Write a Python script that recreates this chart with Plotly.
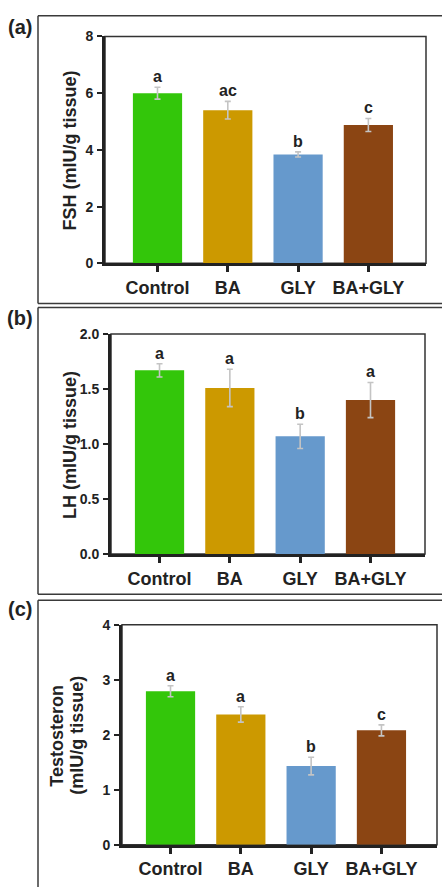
import plotly.graph_objects as go

# ---------------- data ----------------
categories = ["Control", "BA", "GLY", "BA+GLY"]
bar_colors = ["#33c60a", "#cc9900", "#6699cc", "#8b4513"]

fsh_mean = [6.00, 5.40, 3.84, 4.88]
fsh_err = [0.21, 0.31, 0.09, 0.23]
fsh_letters = ["a", "ac", "b", "c"]

lh_mean = [1.67, 1.51, 1.07, 1.40]
lh_err = [0.06, 0.17, 0.11, 0.16]
lh_letters = ["a", "a", "b", "a"]

testo_mean = [2.79, 2.37, 1.43, 2.08]
testo_err = [0.10, 0.14, 0.16, 0.10]
testo_letters = ["a", "a", "b", "c"]

W, H = 442, 892
FONT = "Liberation Sans, Arial, sans-serif"
DARK = "#222222"


def px(x):
    return x / W


def py(y):
    return 1 - y / H


panels = [
    dict(mean=fsh_mean, err=fsh_err, letters=fsh_letters,
         xdom=(105, 426), ydom=(260, 29), yrange=[0, 8], dtick=2, fmt="d",
         xrange=[-0.747, 3.82], label="(a)", label_y=19,
         titles=[("FSH (mIU/g tissue)", 70, 145)],
         frame=(8, 301)),
    dict(mean=lh_mean, err=lh_err, letters=lh_letters,
         xdom=(111, 425), ydom=(556, 332), yrange=[0, 2], dtick=0.5, fmt=".1f",
         xrange=[-0.69, 3.775], label="(b)", label_y=316,
         titles=[("LH (mIU/g tissue)", 70, 445)],
         frame=(305, 597)),
    dict(mean=testo_mean, err=testo_err, letters=testo_letters,
         xdom=(122, 437), ydom=(852, 628), yrange=[0, 4], dtick=1, fmt="d",
         xrange=[-0.69, 3.79], label="(c)", label_y=612,
         titles=[("Testosteron", 57, 741), ("(mIU/g tissue)", 77, 741)],
         frame=(603, 895)),
]

fig = go.Figure()
annotations = []
shapes = []
layout_axes = {}

for i, p in enumerate(panels, start=1):
    xa = "x" if i == 1 else f"x{i}"
    ya = "y" if i == 1 else f"y{i}"
    fig.add_trace(go.Bar(
        x=categories, y=p["mean"], xaxis=xa, yaxis=ya,
        marker=dict(color=bar_colors, line=dict(width=0)),
        width=0.7,
        error_y=dict(type="data", array=p["err"], color="#c4c4c4",
                     thickness=1.6, width=3),
        showlegend=False, hoverinfo="skip",
    ))
    key = "" if i == 1 else str(i)
    layout_axes[f"xaxis{key}"] = dict(
        domain=[px(p["xdom"][0]), px(p["xdom"][1])],
        anchor=ya, type="category", categoryorder="array",
        categoryarray=categories, range=p["xrange"],
        showline=True, linecolor=DARK, linewidth=3,
        ticks="outside", ticklen=6, tickwidth=2.5, tickcolor=DARK,
        tickfont=dict(family=FONT, size=18, color=DARK, weight="bold"),
        ticklabelstandoff=0,
        showgrid=False, zeroline=False, fixedrange=True,
    )
    layout_axes[f"yaxis{key}"] = dict(
        domain=[py(p["ydom"][0]), py(p["ydom"][1])],
        anchor=xa, range=p["yrange"], dtick=p["dtick"], tick0=0,
        tickformat=p["fmt"],
        showline=True, linecolor=DARK, linewidth=3,
        ticks="outside", ticklen=5, tickwidth=2, tickcolor=DARK,
        tickfont=dict(family=FONT, size=14, color=DARK, weight="bold"),
        ticklabelstandoff=1,
        showgrid=False, zeroline=False, fixedrange=True,
    )
    # thin top/right box
    shapes.append(dict(type="rect", xref=f"{xa} domain", yref=f"{ya} domain",
                       x0=0, x1=1, y0=0, y1=1, layer="below",
                       line=dict(color="#333333", width=1.5)))
    # significance letters
    for c, m, e, t in zip(categories, p["mean"], p["err"], p["letters"]):
        annotations.append(dict(x=c, y=m + e, xref=xa, yref=ya, text=t,
                                showarrow=False, yanchor="bottom", xanchor="center",
                                font=dict(family=FONT, size=16, color=DARK, weight="bold")))
    # y axis titles
    for txt, tx, ty in p["titles"]:
        annotations.append(dict(x=px(tx), y=py(ty), xref="paper", yref="paper",
                                text=txt, textangle=-90, showarrow=False,
                                xanchor="center", yanchor="middle",
                                font=dict(family=FONT, size=18, color=DARK, weight="bold")))
    # panel label
    annotations.append(dict(x=px(20), y=py(p["label_y"]), xref="paper", yref="paper",
                            text=p["label"], showarrow=False,
                            xanchor="center", yanchor="middle",
                            font=dict(family=FONT, size=20, color=DARK, weight="bold")))
    # outer frame lines
    top, bot = p["frame"]
    fc = "#3a3a3a"
    shapes.append(dict(type="line", xref="paper", yref="paper",
                       x0=px(38), x1=1.01, y0=py(top), y1=py(top),
                       line=dict(color=fc, width=1.5)))
    shapes.append(dict(type="line", xref="paper", yref="paper",
                       x0=px(38), x1=px(38), y0=py(top), y1=py(bot),
                       line=dict(color=fc, width=1.5)))
    if bot < H:
        shapes.append(dict(type="line", xref="paper", yref="paper",
                           x0=px(38), x1=1.01, y0=py(bot), y1=py(bot),
                           line=dict(color=fc, width=1.5)))

fig.update_layout(
    width=W, height=H,
    margin=dict(l=0, r=0, t=0, b=0),
    paper_bgcolor="white", plot_bgcolor="white",
    bargap=0.3,
    annotations=annotations, shapes=shapes,
    **layout_axes,
)

post = ("document.body.style.margin='0';"
        "document.body.style.overflow='hidden';"
        "var g=document.getElementById('{plot_id}');"
        "g.style.position='absolute';g.style.left='0px';g.style.top='0px';")

fig.write_html("out.html", config=dict(displayModeBar=False), post_script=post)
